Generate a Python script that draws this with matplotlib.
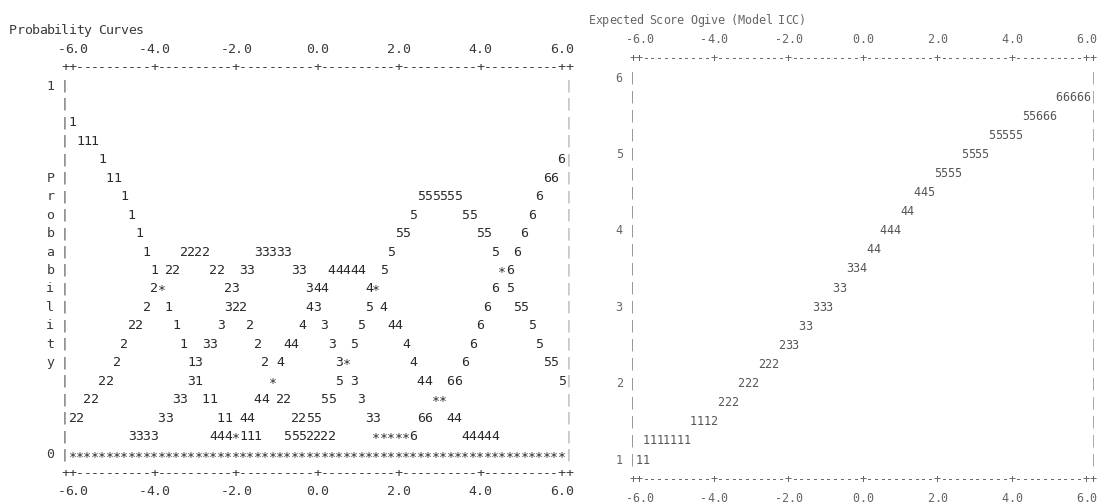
import matplotlib
matplotlib.use('Agg')
import matplotlib.pyplot as plt
from matplotlib import font_manager, transforms

# ---- data -------------------------------------------------------------
x_ticks = [-6.0, -4.0, -2.0, 0.0, 2.0, 4.0, 6.0]

# Probability Curves: text rows keyed by probability, (start column, text)
# column c sits at logit -6 + c/5.5
prob_curves = {
    0.90: [(0, '1')],
    0.85: [(1, '111')],
    0.80: [(4, '1'), (66, '6')],
    0.75: [(5, '11'), (64, '66')],
    0.70: [(7, '1'), (47, '555555'), (63, '6')],
    0.65: [(8, '1'), (46, '5'), (53, '55'), (62, '6')],
    0.60: [(9, '1'), (44, '55'), (55, '55'), (61, '6')],
    0.55: [(10, '1'), (15, '2222'), (25, '33333'), (43, '5'), (57, '5'), (60, '6')],
    0.50: [(11, '1'), (13, '22'), (19, '22'), (23, '33'), (30, '33'), (35, '44444'),
           (42, '5'), (58, '*6')],
    0.45: [(11, '2*'), (21, '23'), (32, '344'), (40, '4*'), (57, '6 5')],
    0.40: [(10, '2'), (13, '1'), (21, '322'), (32, '43'), (40, '5 4'), (56, '6'), (60, '55')],
    0.35: [(8, '22'), (14, '1'), (20, '3'), (24, '2'), (31, '4'), (34, '3'), (39, '5'),
           (43, '44'), (55, '6'), (62, '5')],
    0.30: [(7, '2'), (15, '1'), (18, '33'), (25, '2'), (29, '44'), (35, '3'), (38, '5'),
           (45, '4'), (54, '6'), (63, '5')],
    0.25: [(6, '2'), (16, '13'), (26, '2 4'), (36, '3*'), (46, '4'), (53, '6'), (64, '55')],
    0.20: [(4, '22'), (16, '31'), (27, '*'), (36, '5 3'), (47, '44'), (51, '66'), (66, '5')],
    0.15: [(2, '22'), (14, '33'), (18, '11'), (25, '44'), (28, '22'), (34, '55'), (39, '3'),
           (49, '**')],
    0.10: [(0, '22'), (12, '33'), (20, '11'), (23, '44'), (30, '2255'), (40, '33'),
           (47, '66'), (51, '44')],
    0.05: [(8, '3333'), (19, '444*111'), (29, '5552222'), (41, '*****6'), (53, '44444')],
    0.00: [(0, '*' * 67)],
}
prob_ylabels = {1.0: '1', 0.0: '0'}
prob_side = 'Probability'

# Expected Score Ogive: text rows keyed by expected score
ogive = {
    1.00: [(0, '11')],
    1.25: [(1, '1111111')],
    1.50: [(8, '1112')],
    1.75: [(12, '222')],
    2.00: [(15, '222')],
    2.25: [(18, '222')],
    2.50: [(21, '233')],
    2.75: [(24, '33')],
    3.00: [(26, '333')],
    3.25: [(29, '33')],
    3.50: [(31, '334')],
    3.75: [(34, '44')],
    4.00: [(36, '444')],
    4.25: [(39, '44')],
    4.50: [(41, '445')],
    4.75: [(44, '5555')],
    5.00: [(48, '5555')],
    5.25: [(52, '55555')],
    5.50: [(57, '55666')],
    5.75: [(62, '66666')],
}
ogive_ylabels = [1, 2, 3, 4, 5, 6]

# ---- drawing ----------------------------------------------------------
names = {f.name for f in font_manager.fontManager.ttflist}
if 'Liberation Sans Narrow' in names:
    FONT, FS = 'Liberation Sans Narrow', 10.5
else:
    FONT, FS = 'DejaVu Sans Mono', 9.5

W, H = 1099, 504
fig = plt.figure(figsize=(W / 100, H / 100), dpi=100)


def col2x(c):
    return -6 + c / 5.5


def put(ax, col, y, text, color, fs=None):
    # asterisks sit high in the font; drop them a little towards mid-row
    low = transforms.offset_copy(ax.transData, fig=fig, y=-2, units='dots')
    for i, ch in enumerate(text):
        if ch != ' ':
            ax.text(col2x(col + i), y, ch, ha='center', va='center', color=color,
                    fontsize=fs or FS, family=FONT, clip_on=False,
                    transform=low if ch == '*' else ax.transData)


def axis_line():
    ticks = [round((t + 6) * 5.5) for t in x_ticks]
    s = ''
    for c in range(-1, 68):
        s += '+' if (c in ticks or c in (-1, 67)) else '-'
    return s


def frame(ax, row_y, top, bottom, title, title_col, txt, fs=None):
    step = 1 if top == 0 else -1
    put(ax, title_col, row_y(top - 3 * step), title, txt, fs)
    for yy in (row_y(top - step), row_y(bottom + step)):
        put(ax, -1, yy, axis_line(), txt, fs)
    for yy in (row_y(top - 2 * step), row_y(bottom + 2 * step)):
        for t in x_ticks:
            lab = f'{t:.1f}'
            put(ax, (t + 6) * 5.5 - (len(lab) - 1) / 2, yy, lab, txt, fs)


# left panel: Probability Curves
ax1 = fig.add_axes([72.5 / W, 49 / H, 489.1 / W, 369 / H])
ax1.set_xlim(-6, 6)
ax1.set_ylim(0, 1)
ax1.axis('off')
prow = lambda r: 1 - 0.05 * r
frame(ax1, prow, 0, 20, 'Probability Curves', -8, '#3a3a3a')
for r in range(21):
    put(ax1, -1, prow(r), '|', '#555555')
    put(ax1, 67, prow(r), '|', '#aaaaaa')
for p, lab in prob_ylabels.items():
    put(ax1, -3, p, lab, '#3a3a3a')
for i, ch in enumerate(prob_side):
    put(ax1, -3, prow(5 + i), ch, '#3a3a3a')
for p, toks in prob_curves.items():
    for c, s in toks:
        put(ax1, c, p, s, '#2a2a2a')

# right panel: Expected Score Ogive
FS2 = FS - 1
ax2 = fig.add_axes([639.5 / W, 44 / H, 66 * 6.77 / W, 382 / H])
ax2.set_xlim(-6, 6)
ax2.set_ylim(1, 6)
ax2.axis('off')
srow = lambda k: 1 + 0.25 * k
frame(ax2, srow, 20, 0, 'Expected Score Ogive (Model ICC)', -7, '#666666', FS2)
for k in range(21):
    put(ax2, -1, srow(k), '|', '#999999', FS2)
    put(ax2, 67, srow(k), '|', '#aaaaaa', FS2)
for v in ogive_ylabels:
    put(ax2, -3, v, str(v), '#666666', FS2)
for sc, toks in ogive.items():
    for c, s in toks:
        put(ax2, c, sc, s, '#555555', FS2)

fig.savefig('out.png', dpi=100, facecolor='white')
